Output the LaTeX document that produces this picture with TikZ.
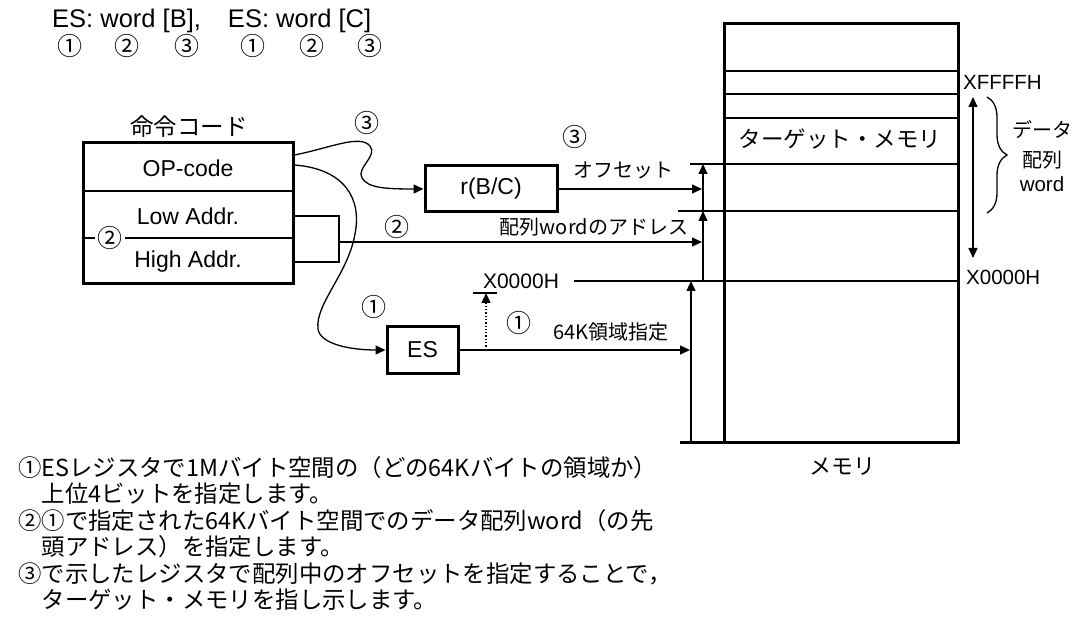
\documentclass[tikz,border=0pt]{standalone}
\usepackage{fontspec}
\setmainfont{Liberation Sans}
\newfontfamily\jpfont{Noto Sans CJK JP}
\usetikzlibrary{arrows.meta,calc,decorations.pathreplacing}

\begin{document}
\begin{tikzpicture}[x=1pt,y=1pt,
  boldline/.style={line width=3pt},
  thinline/.style={line width=1.3pt},
  arr/.style={thinline,-{Triangle[length=10pt,width=9pt]}},
  lbl/.style={inner sep=0pt,font=\fontsize{20.5}{24}\selectfont},
  jlbl/.style={inner sep=0pt,font=\jpfont\fontsize{20}{24}\selectfont},
  circ/.style={inner sep=0pt,font=\jpfont\fontsize{25}{28}\selectfont},
  reg/.style={draw,line width=3pt,inner sep=0pt,font=\fontsize{23}{26}\selectfont}]
\useasboundingbox (0,0) rectangle (1076,624);

\node[lbl,font=\fontsize{25.5}{28}\selectfont,anchor=west] (hdr) at (52,603) {ES: word [B],\hspace{27pt}ES: word [C]};
\foreach \x/\n [count=\i] in {70/①,127/②,187/③,253/①,312/②,370/③}
  \node[circ] (c\i) at (\x,578) {\n};

\draw[boldline] (680,181) -- (958,181) -- (958,600) -- (724,600) -- (724,181);
\draw[line width=2pt] (724,553) -- (958,553);
\foreach \y in {530,506} \draw[thinline] (724,\y) -- (958,\y);
\draw[thinline] (690,460) -- (958,460);
\draw[thinline] (678,413) -- (958,413);

\node[jlbl,font=\jpfont\fontsize{22.5}{26}\selectfont] (tgt) at (840,485) {ターゲット・メモリ};
\node[jlbl,font=\jpfont\fontsize{22}{26}\selectfont] (mem) at (842,157) {メモリ};
\node[lbl,anchor=west] (xhi) at (963,542) {XFFFFH};
\node[lbl,anchor=west] (xlo) at (966,347) {X0000H};
\draw[thinline,{Triangle[length=10pt,width=9pt]}-{Triangle[length=10pt,width=9pt]}] (973,527) -- (973,366);
\draw[thinline,decorate,decoration={brace,amplitude=20pt}] (987,527) -- (987,411);
\node[jlbl] (dat) at (1042,494) {データ};
\node[jlbl] (arr) at (1042,464) {配列};
\node[lbl] (wrd) at (1042,440) {word};

\node[jlbl,font=\jpfont\fontsize{23.5}{26}\selectfont] (ttl) at (189,497) {命令コード};
\node[reg,minimum width=210pt,minimum height=141pt] (instr) at (188,410.5) {};
\node[reg,draw=none] (op) at (188,456) {OP-code};
\node[reg,draw=none] (lo) at (188,408) {Low Addr.};
\node[reg,draw=none] (hi) at (188,362) {High Addr.};
\draw[thinline] (instr.west |- 0,433) -- (instr.east |- 0,433);
\node[circ,fill=white,inner sep=2pt] (two) at (110,386) {②};
\draw[thinline] (instr.west |- two) -- (two.west);
\draw[thinline] (two.east) -- (instr.east |- two);

\node[reg,minimum width=132pt,minimum height=46pt] (rbc) at (491,435) {r(B/C)};
\node[reg,minimum width=71pt,minimum height=47pt] (es) at (422.5,274) {ES};

\coordinate (brk) at (339,382);
\coordinate (v0) at (703,343);
\coordinate (v1) at (703,413);
\coordinate (v2) at (703,460);
\coordinate (w0) at (691,343);
\coordinate (w1) at (691,181);
\coordinate (dotTop) at (486,331);

\draw[thinline] (instr.east |- lo) -- (brk |- lo) -- (brk |- hi) -- (instr.east |- hi);
\draw[arr] (brk) -- (702,382);
\draw[arr] (rbc.east) -- (702,435);
\draw[arr] (es.east) -- (690,274);
\draw[arr] (v1) -- (v2);
\draw[arr] (v0) -- (v1);
\draw[arr] (w1) -- (w0);
\node[lbl,font=\fontsize{21}{24}\selectfont] (xmid) at (521,343) {X0000H};
\draw[thinline] ($(xmid.east)+(15,0)$) -- (958,343);
\draw[thinline] (473,331) -- (497,331);
\draw[arr,dotted] (dotTop |- es) -- (dotTop);

\draw[arr] (instr.east |- 0,469) .. controls (330,476) and (360,490) .. (370,478) .. controls (378,468) and (356,456) .. (362,446) .. controls (368,436) and (385,435) .. (rbc.west);
\draw[arr] (instr.east |- 0,459) .. controls (345,455) and (362,425) .. (355,390) .. controls (348,350) and (315,320) .. (318,295) .. controls (320,280) and (350,274) .. (es.west);

\node[circ] (n3a) at (367,501) {③};
\node[circ] (n3b) at (575,487) {③};
\node[jlbl] (off) at (623,454) {オフセット};
\node[circ] (n2) at (397,397) {②};
\node[jlbl] (adr) at (594,397) {配列wordのアドレス};
\node[circ] (n1a) at (374,317) {①};
\node[circ] (n1b) at (519,301) {①};
\node[jlbl] (k64) at (611,292) {64K領域指定};

\node[jlbl,font=\jpfont\fontsize{23.4}{26.5}\selectfont,align=left,anchor=north west] (notes) at (18,168)
  {①ESレジスタで1Mバイト空間の（どの64Kバイトの領域か）\\
   \hspace*{1em}上位4ビットを指定します。\\
   ②①で指定された64Kバイト空間でのデータ配列word（の先\\
   \hspace*{1em}頭アドレス）を指定します。\\
   ③で示したレジスタで配列中のオフセットを指定することで，\\
   \hspace*{1em}ターゲット・メモリを指し示します。};
\end{tikzpicture}
\end{document}
